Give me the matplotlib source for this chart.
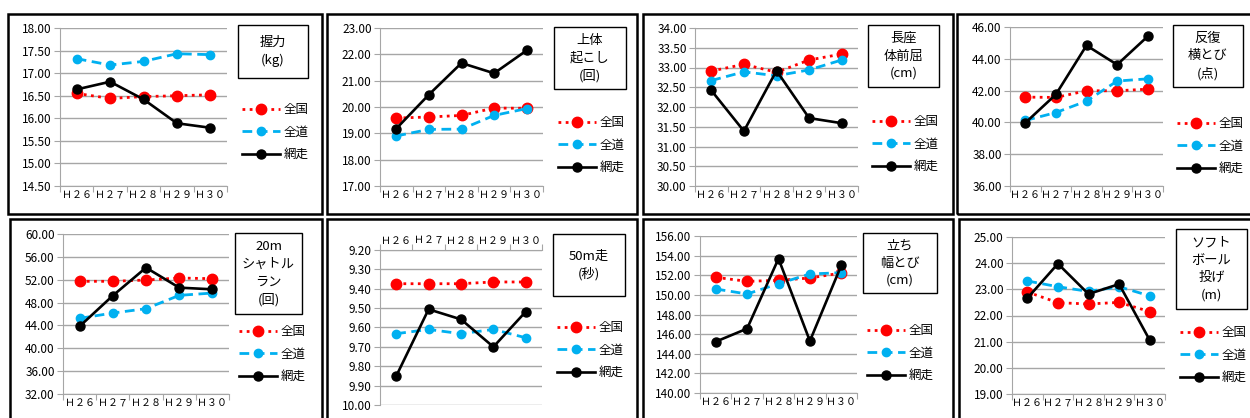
import matplotlib
matplotlib.use("Agg")
import matplotlib.pyplot as plt
from matplotlib.patches import Rectangle

plt.rcParams['font.family'] = ['Noto Sans CJK JP', 'DejaVu Sans']

years = ['Ｈ２６', 'Ｈ２７', 'Ｈ２８', 'Ｈ２９', 'Ｈ３０']
series_names = ['全国', '全道', '網走']

# 握力 (kg)
grip_zenkoku = [16.55, 16.44, 16.48, 16.50, 16.52]
grip_zendo = [17.32, 17.18, 17.26, 17.43, 17.41]
grip_abashiri = [16.64, 16.81, 16.42, 15.89, 15.79]

# 上体起こし (回)
situp_zenkoku = [19.58, 19.62, 19.68, 19.96, 19.95]
situp_zendo = [18.90, 19.15, 19.16, 19.68, 19.94]
situp_abashiri = [19.18, 20.47, 21.67, 21.28, 22.15]

# 長座体前屈 (cm)
reach_zenkoku = [32.91, 33.08, 32.88, 33.19, 33.34]
reach_zendo = [32.67, 32.89, 32.79, 32.94, 33.19]
reach_abashiri = [32.42, 31.39, 32.92, 31.72, 31.59]

# 反復横とび (点)
sidestep_zenkoku = [41.59, 41.57, 41.99, 41.99, 42.09]
sidestep_zendo = [40.12, 40.62, 41.34, 42.60, 42.74]
sidestep_abashiri = [39.97, 41.76, 44.84, 43.63, 45.41]

# 20mシャトルラン (回)
shuttle_zenkoku = [51.72, 51.72, 51.95, 52.30, 52.18]
shuttle_zendo = [45.24, 46.17, 46.93, 49.26, 49.67]
shuttle_abashiri = [43.84, 49.21, 54.11, 50.61, 50.32]

# 50m走 (秒)
dash_zenkoku = [9.374, 9.374, 9.374, 9.365, 9.365]
dash_zendo = [9.632, 9.610, 9.632, 9.610, 9.653]
dash_abashiri = [9.851, 9.506, 9.558, 9.700, 9.518]

# 立ち幅とび (cm)
jump_zenkoku = [151.79, 151.38, 151.48, 151.72, 152.23]
jump_zendo = [150.60, 150.09, 151.14, 152.13, 152.26]
jump_abashiri = [145.23, 146.56, 153.69, 145.30, 153.01]

# ソフトボール投げ (m)
throw_zenkoku = [22.90, 22.49, 22.44, 22.50, 22.15]
throw_zendo = [23.32, 23.10, 22.92, 23.10, 22.75]
throw_abashiri = [22.66, 23.98, 22.82, 23.20, 21.06]

W, H = 1250, 418
fig = plt.figure(figsize=(W / 100, H / 100), dpi=100)


def box(x0, y0, x1, y1):
    return [x0 / W, 1 - y1 / H, (x1 - x0) / W, (y1 - y0) / H]


# panel: (border, axes, title box, legend y, ylim, step, title, values, inverted)
panels = [
    ((8, 14, 322, 214), (60, 28, 227, 186), (238, 25, 308, 78), 132,
     (14.5, 18.0), 0.5, '握力\n(kg)',
     (grip_zenkoku, grip_zendo, grip_abashiri), False),
    ((327, 14, 637, 214), (380, 28, 543, 186), (554, 27, 626, 89), 145,
     (17.0, 23.0), 1.0, '上体\n起こし\n(回)',
     (situp_zenkoku, situp_zendo, situp_abashiri), False),
    ((643, 14, 953, 214), (695, 28, 858, 186), (868, 25, 939, 87), 144,
     (30.0, 34.0), 0.5, '長座\n体前屈\n(cm)',
     (reach_zenkoku, reach_zendo, reach_abashiri), False),
    ((957, 14, 1252, 214), (1010, 27, 1163, 186), (1173, 25, 1243, 87), 146,
     (36.0, 46.0), 2.0, '反復\n横とび\n(点)',
     (sidestep_zenkoku, sidestep_zendo, sidestep_abashiri), False),
    ((10, 219, 322, 422), (63, 234, 229, 394), (235, 233, 302, 314), 354,
     (32.0, 60.0), 4.0, '20m\nシャトル\nラン\n(回)',
     (shuttle_zenkoku, shuttle_zendo, shuttle_abashiri), False),
    ((327, 219, 637, 422), (380, 250, 542, 405), (553, 234, 625, 296), 350,
     (9.2, 10.0), 0.1, '50m走\n(秒)',
     (dash_zenkoku, dash_zendo, dash_abashiri), True),
    ((643, 219, 953, 422), (700, 236, 857, 393), (863, 233, 937, 293), 353,
     (140.0, 156.0), 2.0, '立ち\n幅とび\n(cm)',
     (jump_zenkoku, jump_zendo, jump_abashiri), False),
    ((959, 219, 1252, 422), (1012, 237, 1165, 394), (1176, 229, 1247, 309), 355,
     (19.0, 25.0), 1.0, 'ソフト\nボール\n投げ\n(m)',
     (throw_zenkoku, throw_zendo, throw_abashiri), False),
]

styles = [
    dict(color='#FF0000', linestyle=(0, (1, 1.6)), linewidth=2.0, marker='o', markersize=7.5),
    dict(color='#00B0F0', linestyle=(0, (3.5, 2)), linewidth=2.0, marker='o', markersize=6),
    dict(color='#000000', linestyle='-', linewidth=1.9, marker='o', markersize=6.5),
]
grid_color = '#A6A6A6'

for border, axbox, tbox, leg_y, ylim, step, title, values, inverted in panels:
    fig.patches.append(Rectangle((border[0] / W, 1 - border[3] / H),
                                 (border[2] - border[0]) / W, (border[3] - border[1]) / H,
                                 transform=fig.transFigure, fill=False,
                                 edgecolor='black', linewidth=1.8))

    ax = fig.add_axes(box(*axbox))
    xs = [i + 0.5 for i in range(len(years))]
    handles = []
    for vals, name, st in zip(values, series_names, styles):
        h, = ax.plot(xs, vals, label=name, zorder=3, clip_on=False, **st)
        handles.append(h)

    n = int(round((ylim[1] - ylim[0]) / step))
    ticks = [ylim[0] + i * step for i in range(n + 1)]
    ax.set_yticks(ticks)
    ax.set_yticklabels([f'{t:.2f}' for t in ticks])
    ax.set_ylim(ylim)
    ax.set_xlim(0, len(years))
    ax.set_xticks(range(len(years) + 1))
    ax.set_xticklabels([])
    ax.set_xticks(xs, minor=True)
    ax.set_xticklabels(years, minor=True)
    ax.tick_params(axis='x', which='minor', length=0, labelsize=7.2, pad=3)
    ax.tick_params(axis='x', which='major', length=4, color=grid_color)
    ax.tick_params(axis='y', length=4, color=grid_color, labelsize=8.5, pad=2)
    ax.grid(axis='y', color=grid_color, linewidth=1.0)
    ax.set_axisbelow(True)
    for s in ['top', 'right']:
        ax.spines[s].set_visible(False)
    ax.spines['left'].set_color(grid_color)
    ax.spines['bottom'].set_color(grid_color)
    if inverted:
        ax.invert_yaxis()
        ax.xaxis.tick_top()
        ax.tick_params(axis='x', which='both', top=True, bottom=False)
        ax.spines['bottom'].set_visible(False)
        ax.spines['top'].set_visible(True)
        ax.spines['top'].set_color(grid_color)

    fig.patches.append(Rectangle((tbox[0] / W, 1 - tbox[3] / H),
                                 (tbox[2] - tbox[0]) / W, (tbox[3] - tbox[1]) / H,
                                 transform=fig.transFigure, fill=False,
                                 edgecolor='black', linewidth=1.0))
    fig.text((tbox[0] + tbox[2]) / 2 / W, 1 - (tbox[1] + tbox[3]) / 2 / H, title,
             ha='center', va='center', fontsize=9.5, linespacing=1.45)

    ax.legend(handles=handles, loc='center left',
              bbox_to_anchor=((tbox[0] + 4) / W, 1 - leg_y / H),
              bbox_transform=fig.transFigure, frameon=False, fontsize=9,
              handlelength=3.0, handletextpad=0.3, labelspacing=0.75,
              borderpad=0, borderaxespad=0, numpoints=1)

fig.savefig('out.png', dpi=100)
